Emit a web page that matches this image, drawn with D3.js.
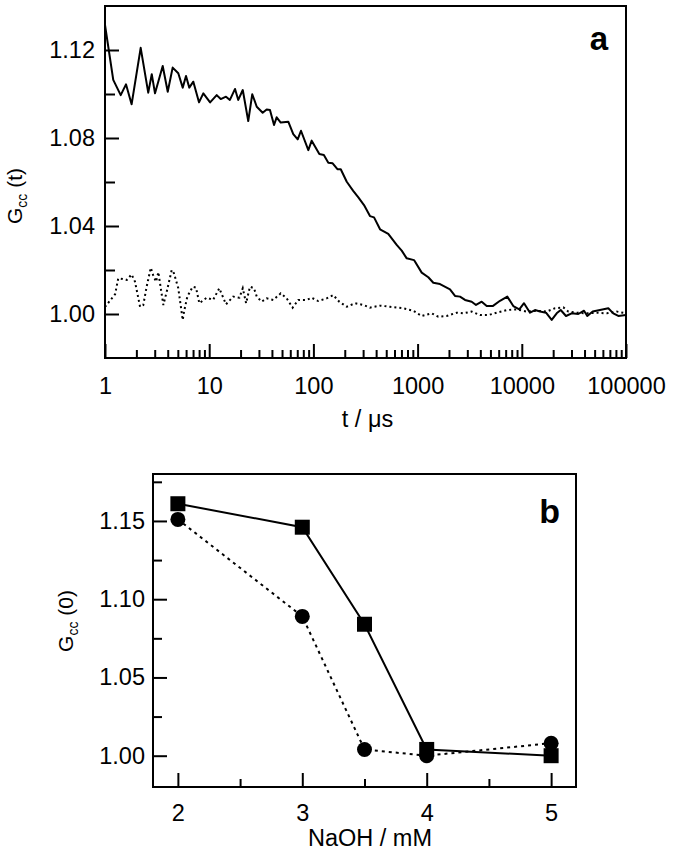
<!DOCTYPE html>
<html>
<head>
<meta charset="utf-8">
<script src="https://cdn.jsdelivr.net/npm/d3@7"></script>
<style>
  html, body { margin: 0; padding: 0; background: #fff; }
  svg { display: block; }
  text { font-family: "Liberation Sans", Arial, Helvetica, sans-serif; fill: #000; }
</style>
</head>
<body>
<script>
// ---------- Panel a data ----------
const solidT = [1, 1.20, 1.415, 1.59, 1.80, 2.20, 2.60, 2.81, 3.02, 3.58, 4.00, 4.46, 5.05, 5.57, 5.99, 6.44, 7.04, 7.98, 8.78,
  10.2, 11.8, 12.9, 14.5, 15.8, 17.7, 19.0, 21.0, 23.7, 25.9, 28.6, 32.6, 35.6, 38.3, 41.9, 44.4, 48.6, 57.4, 64.1, 70.7, 76.0, 89.4, 96.3,
  114, 126, 139, 153, 170, 183, 209, 241, 270, 306, 349, 382, 436, 523, 630, 704, 786, 924,
  1095, 1267, 1415, 1641, 2046, 2285, 2553, 2851, 3305, 3636, 4123, 4605, 5257, 6178, 7258, 8285, 9463,
  10500, 11990, 13390, 14950, 17070, 19360, 21620, 23620, 26560, 30120, 34850, 39540, 42530, 47900, 56300, 67640, 75520, 84370, 100000];
const solidG = [1.1314, 1.1064, 1.0995, 1.1044, 1.0953, 1.1210, 1.1006, 1.1090, 1.1003, 1.1127, 1.1010, 1.1120, 1.1094, 1.1029, 1.1082, 1.1029, 1.1056, 1.0962, 1.1003,
  1.0962, 1.0995, 1.0977, 1.0988, 1.0973, 1.1023, 1.0973, 1.1018, 1.0877, 1.0999, 1.0942, 1.0915, 1.0930, 1.0927, 1.0859, 1.0894, 1.0870, 1.0874, 1.0818, 1.0794, 1.0833, 1.0745, 1.0788,
  1.0727, 1.0723, 1.0688, 1.0685, 1.0658, 1.0658, 1.0601, 1.0560, 1.0530, 1.0495, 1.0445, 1.0439, 1.0385, 1.0364, 1.0314, 1.0288, 1.0253, 1.0245,
  1.0188, 1.0167, 1.0142, 1.0136, 1.0112, 1.0082, 1.0079, 1.0064, 1.0056, 1.0041, 1.0056, 1.0036, 1.0036, 1.0060, 1.0079, 1.0036, 1.0021,
  1.0049, 1.0006, 1.0018, 1.0011, 1.0006, 0.9973, 1.0003, 1.0018, 0.9991, 1.0003, 1.0000, 1.0015, 0.9991, 1.0011, 1.0018, 1.0026, 1.0003, 0.9991, 0.9995];

const dottedT = [1, 1.25, 1.34, 1.48, 1.62, 1.80, 1.94, 2.17, 2.33, 2.51, 2.75, 2.91, 3.09, 3.25, 3.63, 3.91, 4.37, 4.59, 5.05, 5.57, 5.73, 6.17, 6.94, 7.47, 8.04, 9.46,
  10.9, 12.5, 14.5, 17.0, 19.5, 21.0, 22.6, 24.6, 26.9, 28.6, 31.9, 35.6, 41.2, 48.6, 55.4, 63.2, 71.6, 86.3, 96.3,
  111, 134, 155, 177, 209, 251, 301, 349, 436, 543, 729, 909,
  1095, 1366, 1580, 1902, 2372, 2745, 3305, 3970, 4770, 5743, 7164, 8935,
  11140, 13900, 17340, 20830, 25020, 27940, 33640, 41950, 52340, 65270, 81430, 100000];
const dottedG = [1.0032, 1.0090, 1.0162, 1.0159, 1.0155, 1.0180, 1.0147, 1.0033, 1.0041, 1.0124, 1.0210, 1.0174, 1.0147, 1.0190, 1.0041, 1.0101, 1.0200, 1.0185, 1.0117, 0.9973, 1.0010, 1.0079, 1.0124, 1.0120, 1.0049, 1.0074,
  1.0064, 1.0117, 1.0044, 1.0079, 1.0074, 1.0117, 1.0049, 1.0124, 1.0117, 1.0079, 1.0056, 1.0071, 1.0064, 1.0094, 1.0071, 1.0029, 1.0064, 1.0064, 1.0074,
  1.0059, 1.0071, 1.0086, 1.0056, 1.0033, 1.0049, 1.0041, 1.0029, 1.0038, 1.0033, 1.0026, 1.0015,
  0.9991, 1.0003, 0.9988, 0.9991, 1.0006, 1.0003, 1.0011, 0.9995, 0.9995, 1.0006, 1.0018, 1.0021,
  1.0011, 1.0015, 1.0011, 1.0026, 1.0030, 1.0011, 1.0006, 1.0003, 1.0006, 1.0003, 1.0011, 1.0003];

const xTicksA = [1, 10, 100, 1000, 10000, 100000];
const yTicksA = [1.00, 1.04, 1.08, 1.12];
const yMinorA = [1.02, 1.06, 1.10];

// ---------- Panel b data ----------
const naoh = [2, 3, 3.5, 4, 5];
const squaresG = [1.161, 1.146, 1.084, 1.004, 1.000];
const circlesG = [1.151, 1.089, 1.004, 1.000, 1.008];
const xTicksB = [2, 3, 4, 5];
const xMinorB = [2.5, 3.5, 4.5];
const yTicksB = [1.00, 1.05, 1.10, 1.15];
const yMinorB = [1.025, 1.075, 1.125, 1.175];

const W = 674, H = 852;
const svg = d3.select("body").append("svg").attr("width", W).attr("height", H);

const FS = 23.5;

function styleAxis(g) {
  g.select(".domain").remove();
  g.selectAll(".tick line").attr("stroke", "#000").attr("stroke-width", 2);
  g.selectAll(".tick text").style("font-size", FS + "px").attr("fill", "#000")
    .style("font-family", '"Liberation Sans", Arial, sans-serif');
}

// ================= Panel a =================
const A = {l: 105, r: 626, t: 6, b: 358};
const xA = d3.scaleLog().domain([1, 100000]).range([A.l, A.r]);
const yA = d3.scaleLinear().domain([0.98, 1.14]).range([A.b, A.t]);

const gA = svg.append("g");

const minorLogA = [];
for (let d = 1; d < 100000; d *= 10) for (let k = 2; k <= 9; k++) minorLogA.push(d * k);

gA.append("g").attr("transform", `translate(0,${A.b})`)
  .call(d3.axisBottom(xA).tickValues(minorLogA).tickSize(-8).tickFormat(""))
  .call(styleAxis);
gA.append("g").attr("transform", `translate(0,${A.b})`)
  .call(d3.axisBottom(xA).tickValues(xTicksA).tickSize(-14).tickPadding(19).tickFormat(d3.format("d")))
  .call(styleAxis);
gA.append("g").attr("transform", `translate(${A.l},0)`)
  .call(d3.axisLeft(yA).tickValues(yMinorA).tickSize(-10).tickFormat(""))
  .call(styleAxis);
gA.append("g").attr("transform", `translate(${A.l},0)`)
  .call(d3.axisLeft(yA).tickValues(yTicksA).tickSize(-14).tickPadding(10).tickFormat(d3.format(".2f")))
  .call(styleAxis);

svg.append("clipPath").attr("id", "clipA").append("rect")
  .attr("x", A.l).attr("y", A.t).attr("width", A.r - A.l).attr("height", A.b - A.t);

const lineA = d3.line().x(d => xA(d[0])).y(d => yA(d[1]));
gA.append("path").datum(dottedT.map((t, i) => [t, dottedG[i]]))
  .attr("clip-path", "url(#clipA)")
  .attr("d", lineA).attr("fill", "none").attr("stroke", "#000")
  .attr("stroke-width", 2).attr("stroke-dasharray", "2,3");
gA.append("path").datum(solidT.map((t, i) => [t, solidG[i]]))
  .attr("clip-path", "url(#clipA)")
  .attr("d", lineA).attr("fill", "none").attr("stroke", "#000")
  .attr("stroke-width", 2).attr("stroke-linejoin", "round");

gA.append("rect").attr("x", A.l).attr("y", A.t).attr("width", A.r - A.l).attr("height", A.b - A.t)
  .attr("fill", "none").attr("stroke", "#000").attr("stroke-width", 2);

gA.append("text").attr("x", 608).attr("y", 50).attr("text-anchor", "end")
  .style("font-size", "33px").style("font-weight", "bold").text("a");

gA.append("text").attr("x", (A.l + A.r) / 2 + 2).attr("y", 427).attr("text-anchor", "middle")
  .style("font-size", FS + "px").text("t / μs");

const yTitleA = gA.append("text").attr("transform", "translate(22,196) rotate(-90)")
  .attr("text-anchor", "middle").style("font-size", "21px");
yTitleA.append("tspan").text("G");
yTitleA.append("tspan").attr("dy", 5).style("font-size", "14px").text("cc");
yTitleA.append("tspan").attr("dy", -5).text(" (t)");

// ================= Panel b =================
const B = {l: 153, r: 576, t: 474, b: 787};
const xB = d3.scaleLinear().domain([1.8, 5.2]).range([B.l, B.r]);
const yB = d3.scaleLinear().domain([0.98, 1.18]).range([B.b, B.t]);
const gB = svg.append("g");

gB.append("g").attr("transform", `translate(0,${B.b})`)
  .call(d3.axisBottom(xB).tickValues(xMinorB).tickSize(-8).tickFormat(""))
  .call(styleAxis);
gB.append("g").attr("transform", `translate(0,${B.b})`)
  .call(d3.axisBottom(xB).tickValues(xTicksB).tickSize(-14).tickPadding(17).tickFormat(d3.format("d")))
  .call(styleAxis);
gB.append("g").attr("transform", `translate(${B.l},0)`)
  .call(d3.axisLeft(yB).tickValues(yMinorB).tickSize(-9).tickFormat(""))
  .call(styleAxis);
gB.append("g").attr("transform", `translate(${B.l},0)`)
  .call(d3.axisLeft(yB).tickValues(yTicksB).tickSize(-14).tickPadding(8).tickFormat(d3.format(".2f")))
  .call(styleAxis);

const lineB = d3.line().x(d => xB(d[0])).y(d => yB(d[1]));
gB.append("path").datum(naoh.map((n, i) => [n, circlesG[i]]))
  .attr("d", lineB).attr("fill", "none").attr("stroke", "#000")
  .attr("stroke-width", 2).attr("stroke-dasharray", "3,4");
gB.append("path").datum(naoh.map((n, i) => [n, squaresG[i]]))
  .attr("d", lineB).attr("fill", "none").attr("stroke", "#000").attr("stroke-width", 2);

gB.selectAll("circle.pt").data(naoh.map((n, i) => [n, circlesG[i]])).enter()
  .append("circle").attr("class", "pt")
  .attr("cx", d => xB(d[0])).attr("cy", d => yB(d[1])).attr("r", 7.5).attr("fill", "#000");
gB.selectAll("rect.pt").data(naoh.map((n, i) => [n, squaresG[i]])).enter()
  .append("rect").attr("class", "pt")
  .attr("x", d => xB(d[0]) - 7.5).attr("y", d => yB(d[1]) - 7.5).attr("width", 15).attr("height", 15).attr("fill", "#000");

gB.append("rect").attr("x", B.l).attr("y", B.t).attr("width", B.r - B.l).attr("height", B.b - B.t)
  .attr("fill", "none").attr("stroke", "#000").attr("stroke-width", 2);

gB.append("text").attr("x", 560).attr("y", 523).attr("text-anchor", "end")
  .style("font-size", "34px").style("font-weight", "bold").text("b");

gB.append("text").attr("x", 370).attr("y", 846).attr("text-anchor", "middle")
  .style("font-size", FS + "px").text("NaOH / mM");

const yTitleB = gB.append("text").attr("transform", "translate(73,621) rotate(-90)")
  .attr("text-anchor", "middle").style("font-size", "21px");
yTitleB.append("tspan").text("G");
yTitleB.append("tspan").attr("dy", 5).style("font-size", "14px").text("cc");
yTitleB.append("tspan").attr("dy", -5).text(" (0)");
</script>
</body>
</html>
